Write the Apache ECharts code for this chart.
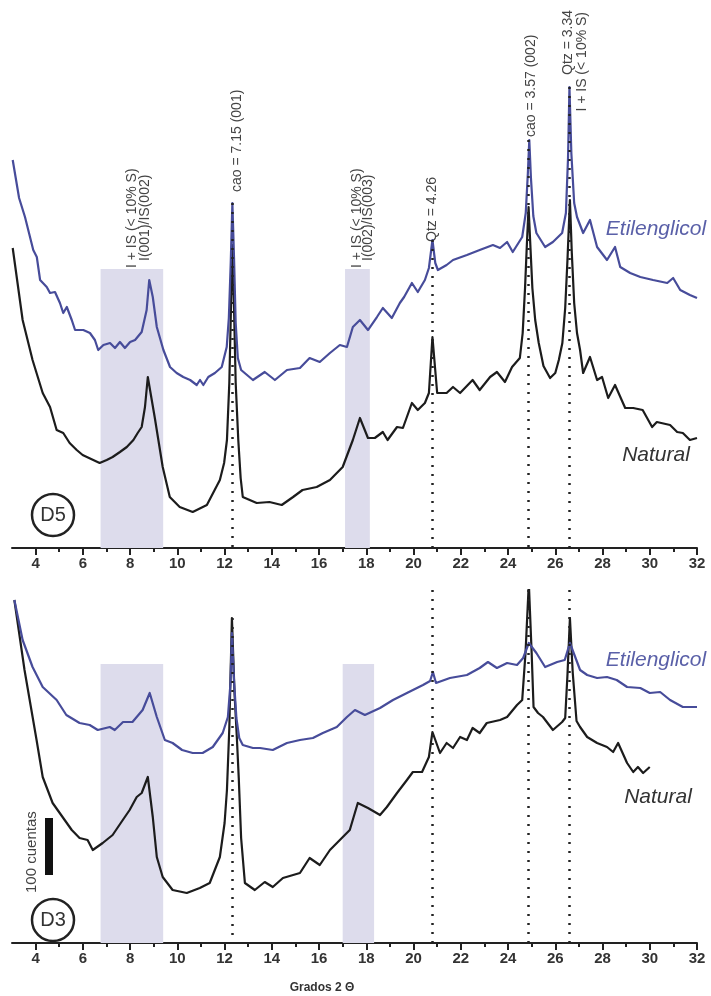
<!DOCTYPE html>
<html>
<head>
<meta charset="utf-8">
<script src="https://cdn.jsdelivr.net/npm/echarts@6/dist/echarts.min.js"></script>
<style>
  html, body { margin: 0; padding: 0; background: #fff; }
  #chart { width: 711px; height: 996px; }
</style>
</head>
<body>
<div id="chart"></div>
<script>
// difractogramas D5 (arriba) y D3 (abajo), intensidad en unidades relativas
var evenTicks = [4, 6, 8, 10, 12, 14, 16, 18, 20, 22, 24, 26, 28, 30, 32];
var oddTicks = [5, 7, 9, 11, 13, 15, 17, 19, 21, 23, 25, 27, 29, 31];

var d5Etilenglicol = [[3.03,388],[3.3,350],[3.55,331],[3.9,298],[4.05,291],[4.19,268],[4.47,261],[4.61,255],[4.82,256],[5.03,245],[5.17,235],[5.32,241],[5.53,228],[5.67,218],[6.02,218],[6.3,215],[6.51,208],[6.65,198],[6.87,203],[7.15,205],[7.36,200],[7.57,206],[7.78,200],[8.0,206],[8.21,208],[8.49,216],[8.7,238],[8.81,268],[8.96,251],[9.13,221],[9.41,198],[9.69,181],[9.97,175],[10.25,171],[10.54,168],[10.82,163],[10.96,168],[11.1,163],[11.31,171],[11.59,175],[11.88,181],[12.09,201],[12.18,230],[12.26,285],[12.33,345],[12.4,290],[12.47,225],[12.56,190],[12.7,178],[13.2,168],[13.7,176],[14.13,168],[14.64,178],[15.19,180],[15.6,190],[16.03,186],[16.46,195],[16.88,203],[17.18,201],[17.43,221],[17.73,228],[18.07,218],[18.45,231],[18.7,240],[19.08,230],[19.42,245],[19.6,251],[19.93,265],[20.18,256],[20.48,268],[20.65,280],[20.8,308],[20.92,285],[21.03,278],[21.4,283],[21.67,288],[22.26,293],[22.8,298],[23.36,303],[23.66,300],[23.96,306],[24.2,296],[24.6,311],[24.75,335],[24.84,375],[24.9,408],[24.97,370],[25.07,332],[25.2,315],[25.57,301],[25.9,306],[26.29,315],[26.45,335],[26.54,390],[26.6,461],[26.68,395],[26.8,345],[26.92,331],[27.18,315],[27.47,328],[27.77,301],[28.19,288],[28.53,301],[28.75,281],[29.17,275],[29.6,271],[30.14,268],[30.74,265],[30.99,270],[31.29,258],[31.7,253],[32.0,250]];

var d5Natural = [[3.03,300],[3.45,228],[3.87,188],[4.3,155],[4.61,141],[4.89,118],[5.17,115],[5.44,105],[5.74,98],[5.99,93],[6.44,88],[6.71,85],[7.01,88],[7.26,91],[7.57,96],[7.86,101],[8.14,108],[8.32,115],[8.49,121],[8.63,141],[8.75,171],[9.04,131],[9.38,81],[9.68,51],[10.1,41],[10.65,36],[11.25,43],[11.8,68],[11.98,85],[12.1,108],[12.2,165],[12.27,240],[12.33,303],[12.4,240],[12.47,165],[12.58,108],[12.68,70],[12.77,51],[13.36,45],[13.9,46],[14.42,43],[14.9,51],[15.3,58],[15.9,61],[16.46,68],[17.0,81],[17.43,108],[17.73,130],[18.07,110],[18.36,110],[18.7,116],[18.9,108],[19.3,121],[19.55,120],[19.93,145],[20.18,138],[20.48,145],[20.65,155],[20.8,211],[21.0,155],[21.4,155],[21.67,161],[21.97,155],[22.5,168],[22.8,158],[23.24,171],[23.53,176],[23.87,166],[24.17,181],[24.5,190],[24.62,215],[24.72,260],[24.8,305],[24.87,341],[24.94,305],[25.03,260],[25.15,228],[25.3,205],[25.5,182],[25.78,170],[26.0,175],[26.15,188],[26.3,205],[26.42,240],[26.52,290],[26.62,348],[26.7,295],[26.8,245],[26.92,215],[27.05,198],[27.18,175],[27.47,191],[27.77,168],[27.98,171],[28.24,150],[28.53,163],[28.96,140],[29.3,140],[29.7,138],[30.1,121],[30.3,126],[30.86,123],[31.16,116],[31.4,115],[31.7,108],[32.0,110]];

var d3Etilenglicol = [[3.1,343],[3.45,303],[3.87,276],[4.3,256],[4.89,243],[5.3,228],[5.86,220],[6.29,218],[6.63,213],[7.14,216],[7.35,213],[7.7,221],[8.1,221],[8.53,233],[8.83,250],[9.13,226],[9.47,203],[9.8,200],[10.2,193],[10.65,190],[11.07,190],[11.5,196],[11.92,210],[12.14,226],[12.25,260],[12.31,310],[12.4,262],[12.5,225],[12.62,205],[12.77,198],[13.2,195],[13.5,195],[14.04,193],[14.64,200],[15.19,203],[15.74,205],[16.16,210],[16.75,216],[17.18,226],[17.52,233],[17.94,228],[18.58,235],[19.13,243],[19.72,250],[20.4,258],[20.7,262],[20.82,271],[20.95,260],[21.54,265],[22.26,268],[22.8,275],[23.15,281],[23.53,275],[23.96,280],[24.38,278],[24.64,285],[24.88,300],[25.2,290],[25.57,276],[26.08,281],[26.4,283],[26.62,300],[27.05,273],[27.35,268],[27.77,265],[28.19,266],[28.6,263],[29.04,256],[29.6,255],[30.0,250],[30.44,251],[30.86,243],[31.4,236],[32.0,236]];

var d3Natural = [[3.1,343],[3.53,273],[4.04,203],[4.3,166],[4.72,140],[5.14,126],[5.53,113],[5.86,105],[6.2,103],[6.42,93],[6.84,100],[7.26,108],[7.69,123],[7.98,133],[8.28,146],[8.49,150],[8.75,166],[8.96,126],[9.13,86],[9.38,66],[9.8,53],[10.4,50],[10.95,55],[11.37,60],[11.8,86],[12.0,120],[12.1,153],[12.2,215],[12.31,325],[12.42,250],[12.52,205],[12.6,165],[12.7,105],[12.86,60],[13.28,53],[13.7,61],[14.04,56],[14.47,65],[15.19,70],[15.6,85],[16.03,78],[16.46,93],[16.88,103],[17.3,113],[17.64,140],[18.07,135],[18.58,128],[18.87,136],[19.3,150],[19.72,163],[19.97,171],[20.36,171],[20.65,186],[20.8,211],[21.12,190],[21.4,200],[21.67,195],[21.97,206],[22.26,203],[22.5,215],[22.8,210],[23.1,220],[23.66,223],[23.96,226],[24.38,238],[24.6,243],[24.74,290],[24.88,360],[25.0,290],[25.08,236],[25.27,230],[25.48,226],[25.9,213],[26.29,221],[26.42,225],[26.52,270],[26.62,325],[26.74,270],[26.9,222],[27.05,216],[27.35,206],[27.77,200],[28.19,196],[28.45,191],[28.66,200],[29.04,180],[29.3,171],[29.5,176],[29.72,170],[30.0,176]];

// zonas sombreadas (grados 2 theta)
var d5Bands = [[6.75, 9.4], [17.1, 18.15]];
var d3Bands = [[6.75, 9.4], [17.0, 18.33]];
// lineas de referencia punteadas
var guideLines = [12.31, 20.8, 24.87, 26.6];

var yMaxTop = 468, yMaxBottom = 353;
var bandTop = 279;

var font = 'Liberation Sans, Arial, sans-serif';
var blue = '#474c9a';
var black = '#1c1c1c';

function peakNear(list, x) {
  var m = 0;
  list.forEach(function (p) { if (Math.abs(p[0] - x) <= 0.12 && p[1] > m) m = p[1]; });
  return m;
}

function mainAxis(g) {
  return {
    type: 'value', gridIndex: g, min: 3, max: 32, position: 'bottom',
    axisLine: { lineStyle: { color: '#222', width: 2 } },
    axisTick: { customValues: evenTicks, length: 7, lineStyle: { color: '#222', width: 2 } },
    axisLabel: { customValues: evenTicks, fontFamily: font, fontWeight: 'bold', fontSize: 15, color: '#333', margin: 8 },
    splitLine: { show: false }
  };
}
function minorAxis(g) {
  return {
    type: 'value', gridIndex: g, min: 3, max: 32, position: 'bottom',
    axisLine: { show: false },
    axisTick: { customValues: oddTicks, length: 4, lineStyle: { color: '#222', width: 2 } },
    axisLabel: { show: false },
    splitLine: { show: false }
  };
}

function bandSeries(xi, yi, bands) {
  return {
    type: 'line', xAxisIndex: xi, yAxisIndex: yi, data: [], silent: true, z: 1,
    markArea: {
      silent: true,
      itemStyle: { color: '#dddcec' },
      data: bands.map(function (b) { return [{ xAxis: b[0], yAxis: 0 }, { xAxis: b[1], yAxis: bandTop }]; })
    }
  };
}
function curve(xi, yi, data, color) {
  return {
    type: 'line', xAxisIndex: xi, yAxisIndex: yi, data: data, showSymbol: false, symbol: 'none',
    z: 3, lineStyle: { color: color, width: 2.2, join: 'round' }
  };
}
function guideSeries(xi, yi, tops) {
  return {
    type: 'line', xAxisIndex: xi, yAxisIndex: yi, data: [], silent: true, z: 5,
    markLine: {
      silent: true, symbol: ['none', 'none'], label: { show: false },
      lineStyle: { type: [2, 7], width: 2.5, color: '#222' },
      data: guideLines.map(function (x, i) { return [{ coord: [x, tops[i]] }, { coord: [x, 0] }]; })
    }
  };
}

var topGuideTops = guideLines.map(function (x) {
  return Math.max(peakNear(d5Etilenglicol, x), peakNear(d5Natural, x));
});
var bottomGuideTops = guideLines.map(function (x, i) {
  return i === 0 ? peakNear(d3Natural, x) : yMaxBottom;
});

var chart = echarts.init(document.getElementById('chart'));

var option = {
  animation: false,
  backgroundColor: '#fff',
  grid: [
    { left: 12, right: 14, top: 80, height: 468 },
    { left: 12, right: 14, top: 590, height: 353 }
  ],
  xAxis: [mainAxis(0), minorAxis(0), mainAxis(1), minorAxis(1)],
  yAxis: [
    { type: 'value', gridIndex: 0, min: 0, max: yMaxTop, show: false },
    { type: 'value', gridIndex: 1, min: 0, max: yMaxBottom, show: false }
  ],
  series: [
    bandSeries(0, 0, d5Bands),
    curve(0, 0, d5Natural, black),
    curve(0, 0, d5Etilenglicol, blue),
    guideSeries(0, 0, topGuideTops),
    bandSeries(2, 1, d3Bands),
    curve(2, 1, d3Natural, black),
    curve(2, 1, d3Etilenglicol, blue),
    guideSeries(2, 1, bottomGuideTops)
  ]
};
chart.setOption(option);

// anotaciones verticales: texto, grados, altura, alineacion
var d5Notes = [
  ['I + IS (< 10% S)', 8.08, 280, 'left'],
  ['I(001)/IS(002)', 8.63, 287, 'left'],
  ['cao = 7.15 (001)', 12.53, 356, 'left'],
  ['I + IS (< 10% S)', 17.6, 280, 'left'],
  ['I(002)/IS(003)', 18.07, 287, 'left'],
  ['Qtz = 4.26', 20.78, 306, 'left'],
  ['cao = 3.57 (002)', 24.97, 411, 'left'],
  ['Qtz = 3.34', 26.54, 538, 'right'],
  ['I + IS (< 10% S)', 27.13, 536, 'right']
];

var graphics = d5Notes.map(function (n) {
  var p = chart.convertToPixel({ gridIndex: 0 }, [n[1], n[2]]);
  return {
    type: 'text', x: p[0], y: p[1], rotation: Math.PI / 2,
    style: { text: n[0], fill: '#444', font: '14px ' + font, textAlign: n[3], textVerticalAlign: 'middle' }
  };
});

function seriesLabel(text, x, y, color) {
  return {
    type: 'text', x: x, y: y,
    style: { text: text, fill: color, font: 'italic 21px ' + font, textAlign: 'center', textVerticalAlign: 'middle' }
  };
}
function sampleBadge(text, x, y) {
  return [
    { type: 'circle', shape: { cx: x, cy: y, r: 21 }, style: { fill: '#fff', stroke: '#222', lineWidth: 2.5 } },
    { type: 'text', x: x, y: y, style: { text: text, fill: '#333', font: '20px ' + font, textAlign: 'center', textVerticalAlign: 'middle' } }
  ];
}

graphics = graphics.concat([
  seriesLabel('Etilenglicol', 656, 229, '#5a60a8'),
  seriesLabel('Natural', 656, 455, '#333'),
  seriesLabel('Etilenglicol', 656, 660, '#5a60a8'),
  seriesLabel('Natural', 658, 797, '#333'),
  { type: 'rect', shape: { x: 45, y: 818, width: 8, height: 57 }, style: { fill: '#111' } },
  {
    type: 'text', x: 32, y: 893, rotation: Math.PI / 2,
    style: { text: '100 cuentas', fill: '#444', font: '15px ' + font, textAlign: 'left', textVerticalAlign: 'middle' }
  },
  {
    type: 'text', x: 322, y: 988,
    style: { text: 'Grados 2 Θ', fill: '#333', font: 'bold 12px ' + font, textAlign: 'center', textVerticalAlign: 'middle' }
  }
]).concat(sampleBadge('D5', 53, 515)).concat(sampleBadge('D3', 53, 920));

chart.setOption({ graphic: graphics });
</script>
</body>
</html>
